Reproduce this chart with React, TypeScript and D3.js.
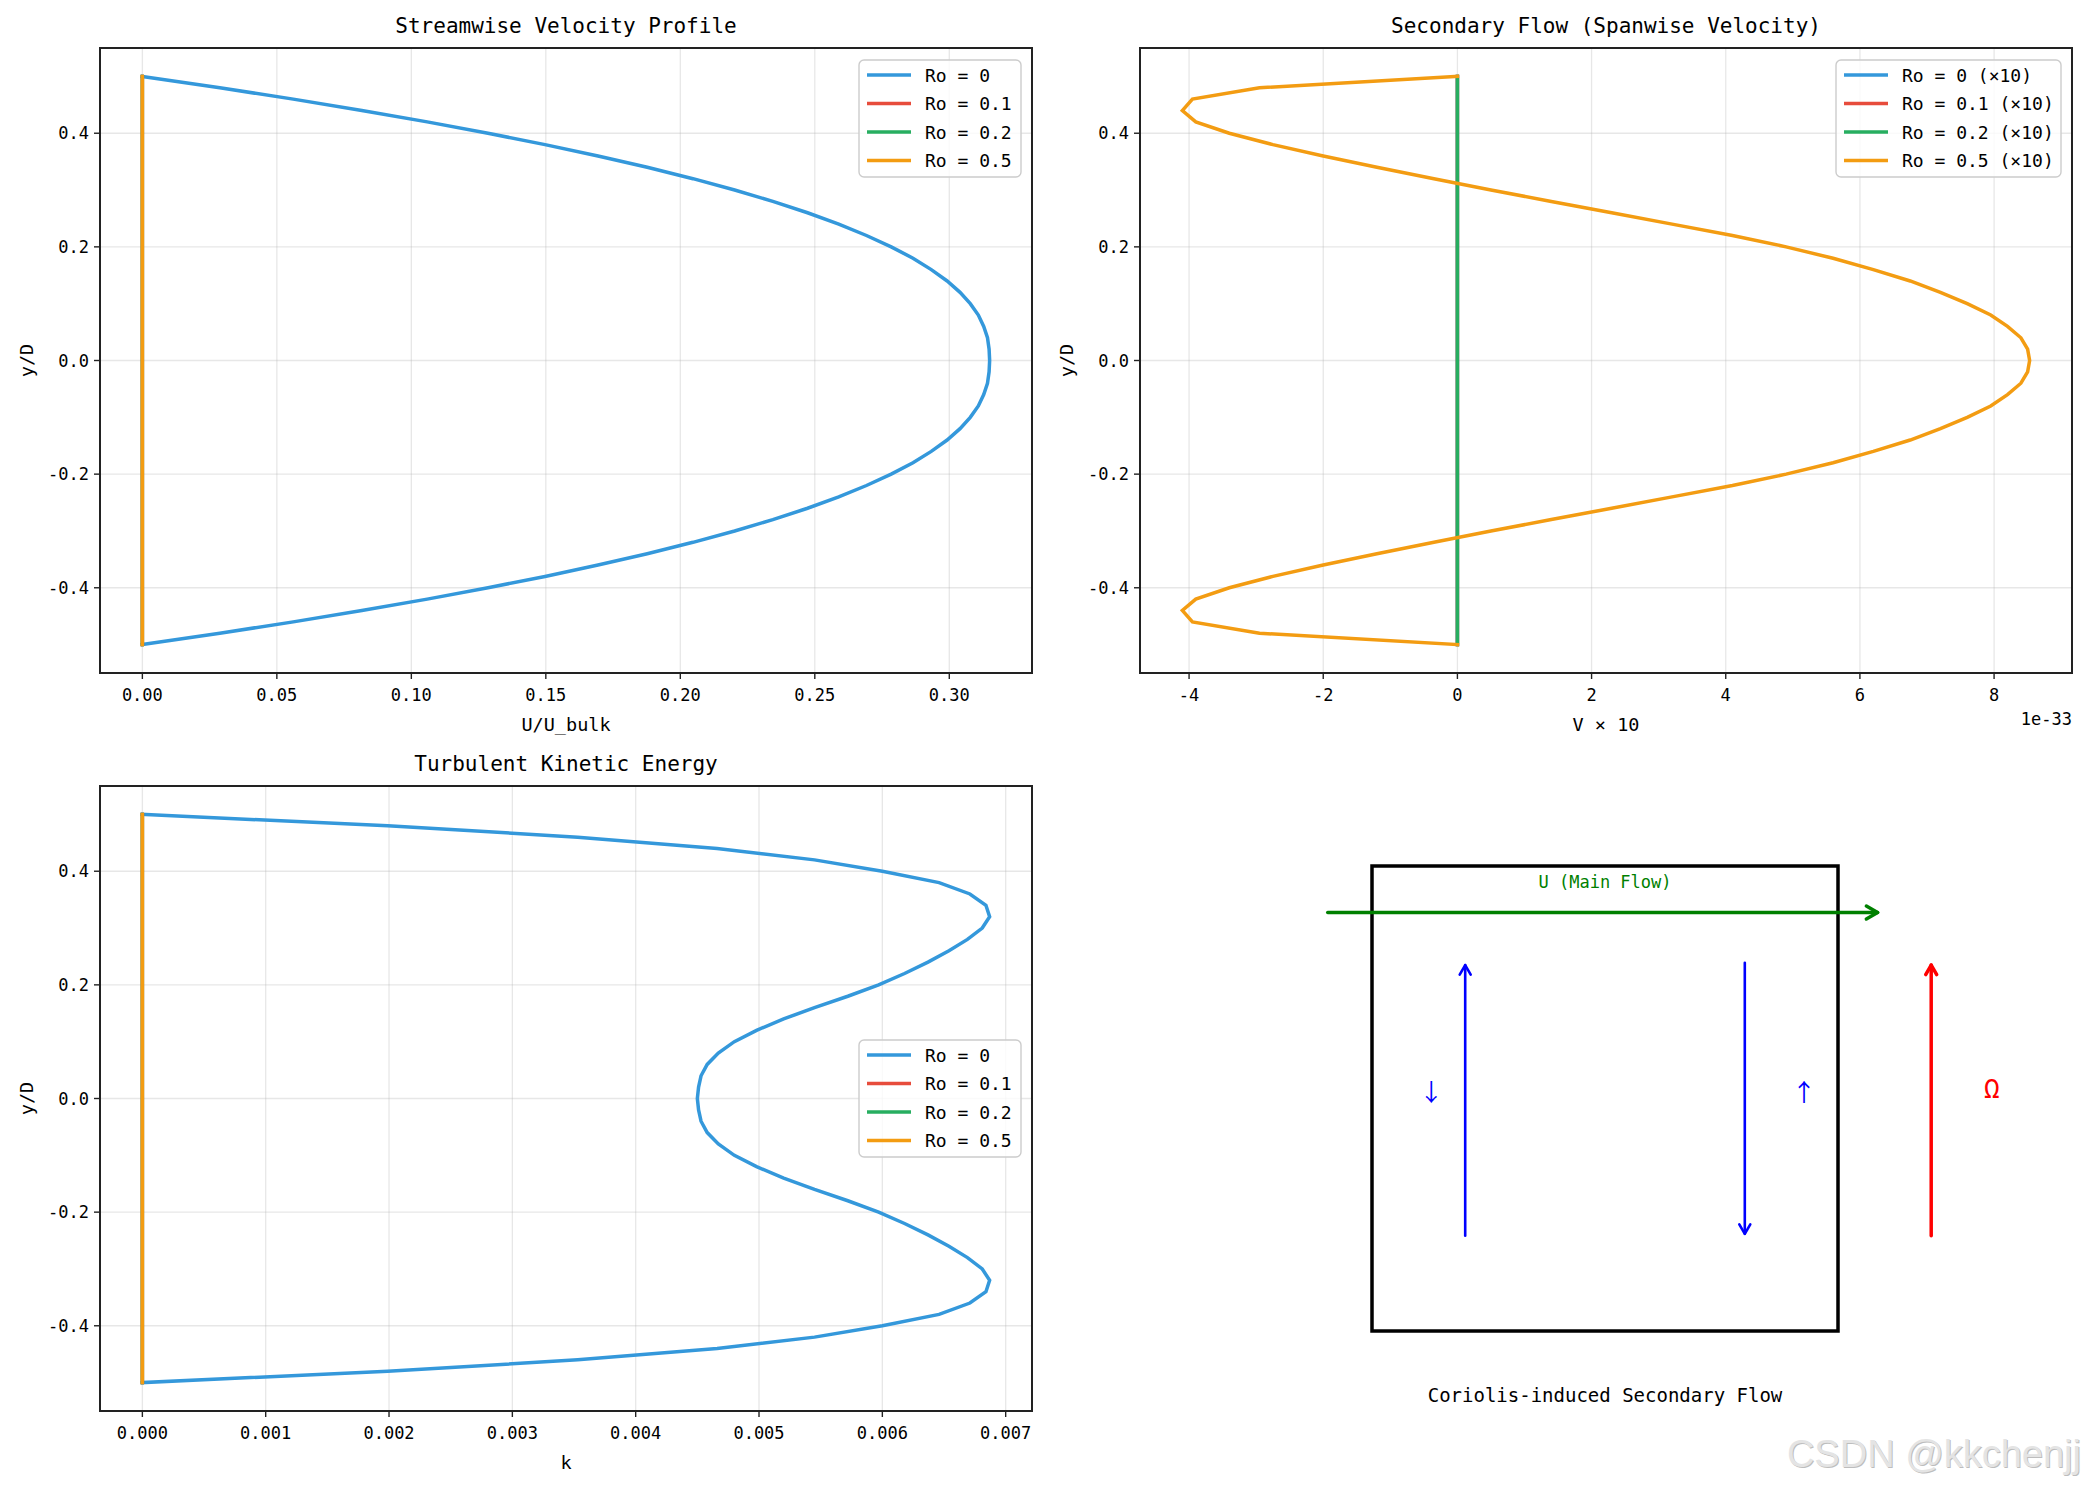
import React from 'react';
import * as d3 from 'd3';

const FIG_W = 2085;
const FIG_H = 1486;
const MONO = '"DejaVu Sans Mono", "Liberation Mono", monospace';
const CJK = '"Noto Sans CJK SC", "DejaVu Sans", sans-serif';

// Wall-normal stations y/D
const yD = [
  -0.5, -0.48, -0.46, -0.44, -0.42, -0.4, -0.38, -0.36, -0.34, -0.32, -0.3, -0.28, -0.26,
  -0.24, -0.22, -0.2, -0.18, -0.16, -0.14, -0.12, -0.1, -0.08, -0.06, -0.04, -0.02, 0,
  0.02, 0.04, 0.06, 0.08, 0.1, 0.12, 0.14, 0.16, 0.18, 0.2, 0.22, 0.24, 0.26, 0.28, 0.3,
  0.32, 0.34, 0.36, 0.38, 0.4, 0.42, 0.44, 0.46, 0.48, 0.5,
];

const roLabels = ['Ro = 0', 'Ro = 0.1', 'Ro = 0.2', 'Ro = 0.5'];
const roLabelsScaled = ['Ro = 0 (×10)', 'Ro = 0.1 (×10)', 'Ro = 0.2 (×10)', 'Ro = 0.5 (×10)'];
const roColors = ['#3498db', '#e74c3c', '#27ae60', '#f39c12'];

// Profiles that stay identically zero
const zeroProfile = [
  0, 0, 0, 0, 0, 0, 0, 0, 0, 0, 0, 0, 0, 0, 0, 0, 0, 0, 0, 0, 0, 0, 0, 0, 0, 0,
  0, 0, 0, 0, 0, 0, 0, 0, 0, 0, 0, 0, 0, 0, 0, 0, 0, 0, 0, 0, 0, 0, 0, 0, 0,
];

// Streamwise velocity U/U_bulk, Ro = 0
const uRo0 = [
  0, 0.0288, 0.0561, 0.0816, 0.1059, 0.1285, 0.1497, 0.1694, 0.1877, 0.2047, 0.2202, 0.2344,
  0.2473, 0.2589, 0.2692, 0.2784, 0.2865, 0.2933, 0.2992, 0.304, 0.3078, 0.3108, 0.3128,
  0.3142, 0.3148, 0.315, 0.3148, 0.3142, 0.3128, 0.3108, 0.3078, 0.304, 0.2992, 0.2933,
  0.2865, 0.2784, 0.2692, 0.2589, 0.2473, 0.2344, 0.2202, 0.2047, 0.1877, 0.1694, 0.1497,
  0.1285, 0.1059, 0.0816, 0.0561, 0.0288, 0,
];

// Spanwise velocity x10, Ro = 0.5 (round-off level)
const vRo05 = [
  0, -2.95e-33, -3.95e-33, -4.1e-33, -3.9e-33, -3.4e-33, -2.75e-33, -2.0e-33, -1.2e-33,
  -0.35e-33, 0.5e-33, 1.4e-33, 2.3e-33, 3.2e-33, 4.1e-33, 4.9e-33, 5.6e-33, 6.2e-33, 6.75e-33,
  7.2e-33, 7.6e-33, 7.95e-33, 8.2e-33, 8.4e-33, 8.5e-33, 8.53e-33, 8.5e-33, 8.4e-33, 8.2e-33,
  7.95e-33, 7.6e-33, 7.2e-33, 6.75e-33, 6.2e-33, 5.6e-33, 4.9e-33, 4.1e-33, 3.2e-33, 2.3e-33,
  1.4e-33, 0.5e-33, -0.35e-33, -1.2e-33, -2.0e-33, -2.75e-33, -3.4e-33, -3.9e-33, -4.1e-33,
  -3.95e-33, -2.95e-33, 0,
];

// Turbulent kinetic energy k, Ro = 0
const kRo0 = [
  0, 0.00199, 0.00353, 0.00466, 0.00545, 0.006, 0.00646, 0.00671, 0.00684, 0.00687, 0.00681,
  0.00669, 0.00654, 0.00637, 0.00618, 0.00597, 0.00572, 0.00545, 0.0052, 0.00498, 0.0048,
  0.00467, 0.00458, 0.00453, 0.00451, 0.0045, 0.00451, 0.00453, 0.00458, 0.00467, 0.0048,
  0.00498, 0.0052, 0.00545, 0.00572, 0.00597, 0.00618, 0.00637, 0.00654, 0.00669, 0.00681,
  0.00687, 0.00684, 0.00671, 0.00646, 0.006, 0.00545, 0.00466, 0.00353, 0.00199, 0,
];

const uSeries = [uRo0, zeroProfile, zeroProfile, zeroProfile];
const vSeries = [zeroProfile, zeroProfile, zeroProfile, vRo05];
const kSeries = [kRo0, zeroProfile, zeroProfile, zeroProfile];

const hyphen = (s: string) => s.replace('\u2212', '-');

type PanelProps = {
  id: string;
  left: number;
  top: number;
  width: number;
  height: number;
  title: string;
  xLabel: string;
  series: number[][];
  labels: string[];
  xTickCount: number;
  xFormat: (v: number) => string;
  legendPos: 'upper right' | 'center right';
  offsetText?: string;
};

function Panel(p: PanelProps) {
  const all = p.series.flat();
  const [lo, hi] = d3.extent(all) as [number, number];
  const pad = (hi - lo) * 0.05;
  const xs = d3.scaleLinear().domain([lo - pad, hi + pad]).range([p.left, p.left + p.width]);
  const ys = d3.scaleLinear().domain([-0.55, 0.55]).range([p.top + p.height, p.top]);
  const xTicks = xs.ticks(p.xTickCount);
  const yTicks = ys.ticks(5);
  const line = d3
    .line<number>()
    .x((d) => xs(d))
    .y((_, i) => ys(yD[i]));
  const bottom = p.top + p.height;
  const right = p.left + p.width;

  // legend geometry
  const maxChars = d3.max(p.labels, (l) => l.length) as number;
  const legW = 66 + maxChars * 10.5 + 12;
  const legH = 117;
  const legX = right - 11 - legW;
  const legY = p.legendPos === 'upper right' ? p.top + 12 : p.top + p.height / 2 - legH / 2;

  return (
    <g>
      <defs>
        <clipPath id={`clip-${p.id}`}>
          <rect x={p.left} y={p.top} width={p.width} height={p.height} />
        </clipPath>
      </defs>
      <rect x={p.left} y={p.top} width={p.width} height={p.height} fill="#fff" />
      {/* grid */}
      <g stroke="#b0b0b0" strokeOpacity={0.3} strokeWidth={1.3}>
        {xTicks.map((t) => (
          <line key={`gx${t}`} x1={xs(t)} x2={xs(t)} y1={p.top} y2={bottom} />
        ))}
        {yTicks.map((t) => (
          <line key={`gy${t}`} x1={p.left} x2={right} y1={ys(t)} y2={ys(t)} />
        ))}
      </g>
      {/* profiles */}
      <g clipPath={`url(#clip-${p.id})`} fill="none" strokeWidth={3.5} strokeLinejoin="miter" strokeLinecap="square">
        {p.series.map((s, i) => (
          <path key={i} d={line(s) as string} stroke={roColors[i]} />
        ))}
      </g>
      {/* spines */}
      <rect x={p.left} y={p.top} width={p.width} height={p.height} fill="none" stroke="#222" strokeWidth={2} />
      {/* ticks */}
      <g fontFamily={MONO} fontSize={17} fill="#000">
        {xTicks.map((t) => (
          <g key={`tx${t}`}>
            <line x1={xs(t)} x2={xs(t)} y1={bottom} y2={bottom + 6} stroke="#222" strokeWidth={1.4} />
            <text x={xs(t)} y={bottom + 22} textAnchor="middle" dominantBaseline="central">
              {p.xFormat(t)}
            </text>
          </g>
        ))}
        {yTicks.map((t) => (
          <g key={`ty${t}`}>
            <line x1={p.left - 6} x2={p.left} y1={ys(t)} y2={ys(t)} stroke="#222" strokeWidth={1.4} />
            <text x={p.left - 11} y={ys(t)} textAnchor="end" dominantBaseline="central">
              {hyphen(d3.format('.1f')(t))}
            </text>
          </g>
        ))}
      </g>
      {p.offsetText && (
        <text x={right} y={bottom + 46} textAnchor="end" dominantBaseline="central" fontFamily={MONO} fontSize={17}>
          {p.offsetText}
        </text>
      )}
      {/* labels */}
      <text
        x={(p.left + right) / 2}
        y={bottom + 51}
        textAnchor="middle"
        dominantBaseline="central"
        fontFamily={MONO}
        fontSize={18.5}
      >
        {p.xLabel}
      </text>
      <text
        transform={`translate(${p.left - 74},${p.top + p.height / 2}) rotate(-90)`}
        textAnchor="middle"
        dominantBaseline="central"
        fontFamily={MONO}
        fontSize={18.5}
      >
        y/D
      </text>
      <text
        x={(p.left + right) / 2}
        y={p.top - 22}
        textAnchor="middle"
        dominantBaseline="central"
        fontFamily={MONO}
        fontSize={21}
      >
        {p.title}
      </text>
      {/* legend */}
      <g>
        <rect
          x={legX}
          y={legY}
          width={legW}
          height={legH}
          rx={5}
          fill="#fff"
          fillOpacity={0.8}
          stroke="#cccccc"
          strokeWidth={1.4}
        />
        {p.labels.map((l, i) => {
          const cy = legY + 15 + i * 28.5;
          return (
            <g key={l}>
              <line x1={legX + 8} x2={legX + 52} y1={cy} y2={cy} stroke={roColors[i]} strokeWidth={3.5} />
              <text x={legX + 66} y={cy} dominantBaseline="central" fontFamily={MONO} fontSize={18}>
                {l}
              </text>
            </g>
          );
        })}
      </g>
    </g>
  );
}

// Schematic of the rotating duct (unit box coordinates)
const mainFlow = { x0: -0.095, x1: 1.085, y: 0.9 };
const secondaryArrows = [
  { x: 0.2, from: 0.205, to: 0.787 },
  { x: 0.8, from: 0.792, to: 0.209 },
];
const rotationArrow = { x: 1.2, from: 0.205, to: 0.787 };
const schematicLabels = [
  { text: 'U (Main Flow)', x: 0.5, y: 0.965, color: 'green', size: 17, font: MONO },
  { text: '↓', x: 0.127, y: 0.517, color: 'blue', size: 24, font: CJK },
  { text: '↑', x: 0.927, y: 0.517, color: 'blue', size: 24, font: CJK },
  { text: 'Ω', x: 1.33, y: 0.52, color: 'red', size: 26, font: MONO },
  { text: 'Coriolis-induced Secondary Flow', x: 0.5, y: -0.138, color: '#000', size: 19, font: MONO },
];

function Schematic() {
  const sx = d3.scaleLinear().domain([0, 1]).range([1372, 1838]);
  const sy = d3.scaleLinear().domain([0, 1]).range([1331, 866]);
  const head = (x: number, y: number, dx: number, dy: number, len: number) => {
    // chevron arrow head pointing along (dx, dy)
    const a = Math.PI / 6;
    const ang = Math.atan2(dy, dx);
    const p1 = [x - len * Math.cos(ang - a), y - len * Math.sin(ang - a)];
    const p2 = [x - len * Math.cos(ang + a), y - len * Math.sin(ang + a)];
    return `M${p1[0]},${p1[1]}L${x},${y}L${p2[0]},${p2[1]}`;
  };
  const vArrow = (x: number, from: number, to: number, color: string, w: number, key: string) => {
    const X = sx(x);
    const Y0 = sy(from);
    const Y1 = sy(to);
    return (
      <g key={key} stroke={color} strokeWidth={w} fill="none" strokeLinecap="round" strokeLinejoin="round">
        <line x1={X} x2={X} y1={Y0} y2={Y1} />
        <path d={head(X, Y1, 0, Y1 - Y0, 11)} />
      </g>
    );
  };
  return (
    <g>
      <rect
        x={sx(0)}
        y={sy(1)}
        width={sx(1) - sx(0)}
        height={sy(0) - sy(1)}
        fill="none"
        stroke="#000"
        strokeWidth={3.5}
      />
      <g stroke="green" strokeWidth={3.5} fill="none" strokeLinecap="round" strokeLinejoin="round">
        <line x1={sx(mainFlow.x0)} x2={sx(mainFlow.x1)} y1={sy(mainFlow.y)} y2={sy(mainFlow.y)} />
        <path d={head(sx(mainFlow.x1), sy(mainFlow.y), 1, 0, 13)} />
      </g>
      {secondaryArrows.map((a, i) => vArrow(a.x, a.from, a.to, 'blue', 2.6, `s${i}`))}
      {vArrow(rotationArrow.x, rotationArrow.from, rotationArrow.to, 'red', 3.5, 'rot')}
      {schematicLabels.map((l) => (
        <text
          key={l.text}
          x={sx(l.x)}
          y={sy(l.y)}
          fill={l.color}
          fontSize={l.size}
          fontFamily={l.font}
          textAnchor="middle"
          dominantBaseline="central"
        >
          {l.text}
        </text>
      ))}
    </g>
  );
}

export default function App() {
  return (
    <svg
      width={FIG_W}
      height={FIG_H}
      viewBox={`0 0 ${FIG_W} ${FIG_H}`}
      style={{ position: 'absolute', left: 0, top: 0, background: '#fff' }}
    >
      <rect width={FIG_W} height={FIG_H} fill="#fff" />
      <Panel
        id="u"
        left={100}
        top={48}
        width={932}
        height={625}
        title="Streamwise Velocity Profile"
        xLabel="U/U_bulk"
        series={uSeries}
        labels={roLabels}
        xTickCount={7}
        xFormat={(v) => d3.format('.2f')(v)}
        legendPos="upper right"
      />
      <Panel
        id="v"
        left={1140}
        top={48}
        width={932}
        height={625}
        title="Secondary Flow (Spanwise Velocity)"
        xLabel="V × 10"
        series={vSeries}
        labels={roLabelsScaled}
        xTickCount={7}
        xFormat={(v) => hyphen(String(Math.round(v / 1e-33)))}
        legendPos="upper right"
        offsetText="1e-33"
      />
      <Panel
        id="k"
        left={100}
        top={786}
        width={932}
        height={625}
        title="Turbulent Kinetic Energy"
        xLabel="k"
        series={kSeries}
        labels={roLabels}
        xTickCount={8}
        xFormat={(v) => d3.format('.3f')(v)}
        legendPos="center right"
      />
      <Schematic />
      <g fontFamily='"Liberation Sans", Arial, sans-serif' fontSize={38} textAnchor="end">
        <text x={2082} y={1468} fill="#bdbdbd">
          CSDN @kkchenjj
        </text>
        <text x={2081} y={1467} fill="#e4e4e4">
          CSDN @kkchenjj
        </text>
      </g>
    </svg>
  );
}
